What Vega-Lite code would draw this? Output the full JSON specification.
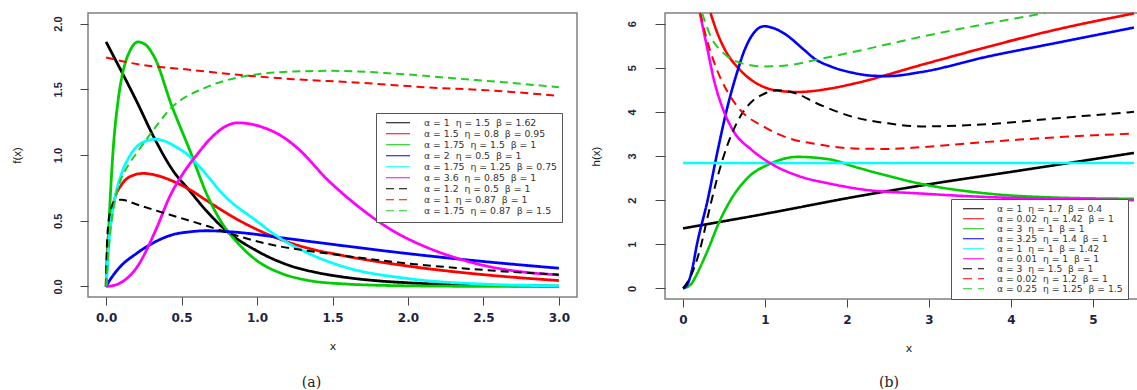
{
"$schema": "https://vega.github.io/schema/vega-lite/v6.json",
"padding": {"left": 10, "top": 7, "right": 0, "bottom": 0},
"spacing": 11,
"background": "white",
"config": {
  "view": {"stroke": "#808080", "strokeWidth": 1.5},
  "axis": {"domain": false, "grid": false, "tickColor": "#444", "tickWidth": 1, "labelFont": "Liberation Sans", "labelFontWeight": "bold", "labelColor": "#1f1f3f", "titleFont": "Liberation Sans", "titleFontWeight": "normal", "titleFontSize": 11.5, "titleColor": "#222", "labelFlush": false, "labelOverlap": false},
  "axisX": {"labelFont": "DejaVu Sans", "labelFontSize": 12, "labelPadding": 7, "titlePadding": 17, "titleFont": "DejaVu Sans", "titleFontSize": 11},
  "axisY": {"labelFontSize": 11},
  "line": {"clip": true, "interpolate": "monotone", "strokeCap": "butt"}
},
"resolve": {"scale": {"color": "independent", "strokeDash": "independent"}, "legend": {"color": "independent", "strokeDash": "independent"}},
"datasets": {
"aS": [
{"s":"α = 1\u00a0\u00a0η = 1.5\u00a0\u00a0β = 1.62","x":0,"y":1.86},
{"s":"α = 1\u00a0\u00a0η = 1.5\u00a0\u00a0β = 1.62","x":0.05,"y":1.75},
{"s":"α = 1\u00a0\u00a0η = 1.5\u00a0\u00a0β = 1.62","x":0.1,"y":1.64},
{"s":"α = 1\u00a0\u00a0η = 1.5\u00a0\u00a0β = 1.62","x":0.21,"y":1.39},
{"s":"α = 1\u00a0\u00a0η = 1.5\u00a0\u00a0β = 1.62","x":0.31,"y":1.15},
{"s":"α = 1\u00a0\u00a0η = 1.5\u00a0\u00a0β = 1.62","x":0.444,"y":0.88},
{"s":"α = 1\u00a0\u00a0η = 1.5\u00a0\u00a0β = 1.62","x":0.554,"y":0.727},
{"s":"α = 1\u00a0\u00a0η = 1.5\u00a0\u00a0β = 1.62","x":0.664,"y":0.576},
{"s":"α = 1\u00a0\u00a0η = 1.5\u00a0\u00a0β = 1.62","x":0.797,"y":0.424},
{"s":"α = 1\u00a0\u00a0η = 1.5\u00a0\u00a0β = 1.62","x":1.0,"y":0.27},
{"s":"α = 1\u00a0\u00a0η = 1.5\u00a0\u00a0β = 1.62","x":1.216,"y":0.159},
{"s":"α = 1\u00a0\u00a0η = 1.5\u00a0\u00a0β = 1.62","x":1.4,"y":0.105},
{"s":"α = 1\u00a0\u00a0η = 1.5\u00a0\u00a0β = 1.62","x":1.57,"y":0.072},
{"s":"α = 1\u00a0\u00a0η = 1.5\u00a0\u00a0β = 1.62","x":1.8,"y":0.043},
{"s":"α = 1\u00a0\u00a0η = 1.5\u00a0\u00a0β = 1.62","x":2.0,"y":0.028},
{"s":"α = 1\u00a0\u00a0η = 1.5\u00a0\u00a0β = 1.62","x":2.5,"y":0.009},
{"s":"α = 1\u00a0\u00a0η = 1.5\u00a0\u00a0β = 1.62","x":3.0,"y":0.003},
{"s":"α = 1.5\u00a0\u00a0η = 0.8\u00a0\u00a0β = 0.95","x":0,"y":0},
{"s":"α = 1.5\u00a0\u00a0η = 0.8\u00a0\u00a0β = 0.95","x":0.01,"y":0.3},
{"s":"α = 1.5\u00a0\u00a0η = 0.8\u00a0\u00a0β = 0.95","x":0.03,"y":0.52},
{"s":"α = 1.5\u00a0\u00a0η = 0.8\u00a0\u00a0β = 0.95","x":0.06,"y":0.68},
{"s":"α = 1.5\u00a0\u00a0η = 0.8\u00a0\u00a0β = 0.95","x":0.1,"y":0.77},
{"s":"α = 1.5\u00a0\u00a0η = 0.8\u00a0\u00a0β = 0.95","x":0.15,"y":0.83},
{"s":"α = 1.5\u00a0\u00a0η = 0.8\u00a0\u00a0β = 0.95","x":0.245,"y":0.86},
{"s":"α = 1.5\u00a0\u00a0η = 0.8\u00a0\u00a0β = 0.95","x":0.35,"y":0.84},
{"s":"α = 1.5\u00a0\u00a0η = 0.8\u00a0\u00a0β = 0.95","x":0.444,"y":0.8},
{"s":"α = 1.5\u00a0\u00a0η = 0.8\u00a0\u00a0β = 0.95","x":0.55,"y":0.74},
{"s":"α = 1.5\u00a0\u00a0η = 0.8\u00a0\u00a0β = 0.95","x":0.664,"y":0.655},
{"s":"α = 1.5\u00a0\u00a0η = 0.8\u00a0\u00a0β = 0.95","x":0.885,"y":0.5},
{"s":"α = 1.5\u00a0\u00a0η = 0.8\u00a0\u00a0β = 0.95","x":1.106,"y":0.38},
{"s":"α = 1.5\u00a0\u00a0η = 0.8\u00a0\u00a0β = 0.95","x":1.326,"y":0.295},
{"s":"α = 1.5\u00a0\u00a0η = 0.8\u00a0\u00a0β = 0.95","x":1.57,"y":0.235},
{"s":"α = 1.5\u00a0\u00a0η = 0.8\u00a0\u00a0β = 0.95","x":2.0,"y":0.155},
{"s":"α = 1.5\u00a0\u00a0η = 0.8\u00a0\u00a0β = 0.95","x":2.5,"y":0.09},
{"s":"α = 1.5\u00a0\u00a0η = 0.8\u00a0\u00a0β = 0.95","x":3.0,"y":0.045},
{"s":"α = 1.75\u00a0\u00a0η = 1.5\u00a0\u00a0β = 1","x":0,"y":0},
{"s":"α = 1.75\u00a0\u00a0η = 1.5\u00a0\u00a0β = 1","x":0.01,"y":0.25},
{"s":"α = 1.75\u00a0\u00a0η = 1.5\u00a0\u00a0β = 1","x":0.025,"y":0.62},
{"s":"α = 1.75\u00a0\u00a0η = 1.5\u00a0\u00a0β = 1","x":0.046,"y":1.03},
{"s":"α = 1.75\u00a0\u00a0η = 1.5\u00a0\u00a0β = 1","x":0.079,"y":1.41},
{"s":"α = 1.75\u00a0\u00a0η = 1.5\u00a0\u00a0β = 1","x":0.113,"y":1.64},
{"s":"α = 1.75\u00a0\u00a0η = 1.5\u00a0\u00a0β = 1","x":0.157,"y":1.79},
{"s":"α = 1.75\u00a0\u00a0η = 1.5\u00a0\u00a0β = 1","x":0.212,"y":1.86},
{"s":"α = 1.75\u00a0\u00a0η = 1.5\u00a0\u00a0β = 1","x":0.26,"y":1.84},
{"s":"α = 1.75\u00a0\u00a0η = 1.5\u00a0\u00a0β = 1","x":0.322,"y":1.74},
{"s":"α = 1.75\u00a0\u00a0η = 1.5\u00a0\u00a0β = 1","x":0.433,"y":1.38},
{"s":"α = 1.75\u00a0\u00a0η = 1.5\u00a0\u00a0β = 1","x":0.56,"y":1.02},
{"s":"α = 1.75\u00a0\u00a0η = 1.5\u00a0\u00a0β = 1","x":0.664,"y":0.71},
{"s":"α = 1.75\u00a0\u00a0η = 1.5\u00a0\u00a0β = 1","x":0.775,"y":0.47},
{"s":"α = 1.75\u00a0\u00a0η = 1.5\u00a0\u00a0β = 1","x":0.85,"y":0.36},
{"s":"α = 1.75\u00a0\u00a0η = 1.5\u00a0\u00a0β = 1","x":0.995,"y":0.2},
{"s":"α = 1.75\u00a0\u00a0η = 1.5\u00a0\u00a0β = 1","x":1.17,"y":0.096},
{"s":"α = 1.75\u00a0\u00a0η = 1.5\u00a0\u00a0β = 1","x":1.33,"y":0.048},
{"s":"α = 1.75\u00a0\u00a0η = 1.5\u00a0\u00a0β = 1","x":1.57,"y":0.02},
{"s":"α = 1.75\u00a0\u00a0η = 1.5\u00a0\u00a0β = 1","x":2.0,"y":0.005},
{"s":"α = 1.75\u00a0\u00a0η = 1.5\u00a0\u00a0β = 1","x":2.5,"y":0.001},
{"s":"α = 1.75\u00a0\u00a0η = 1.5\u00a0\u00a0β = 1","x":3.0,"y":0},
{"s":"α = 2\u00a0\u00a0η = 0.5\u00a0\u00a0β = 1","x":0,"y":0},
{"s":"α = 2\u00a0\u00a0η = 0.5\u00a0\u00a0β = 1","x":0.02,"y":0.04},
{"s":"α = 2\u00a0\u00a0η = 0.5\u00a0\u00a0β = 1","x":0.05,"y":0.09},
{"s":"α = 2\u00a0\u00a0η = 0.5\u00a0\u00a0β = 1","x":0.09,"y":0.146},
{"s":"α = 2\u00a0\u00a0η = 0.5\u00a0\u00a0β = 1","x":0.2,"y":0.25},
{"s":"α = 2\u00a0\u00a0η = 0.5\u00a0\u00a0β = 1","x":0.31,"y":0.33},
{"s":"α = 2\u00a0\u00a0η = 0.5\u00a0\u00a0β = 1","x":0.444,"y":0.395},
{"s":"α = 2\u00a0\u00a0η = 0.5\u00a0\u00a0β = 1","x":0.55,"y":0.415},
{"s":"α = 2\u00a0\u00a0η = 0.5\u00a0\u00a0β = 1","x":0.664,"y":0.424},
{"s":"α = 2\u00a0\u00a0η = 0.5\u00a0\u00a0β = 1","x":0.885,"y":0.41},
{"s":"α = 2\u00a0\u00a0η = 0.5\u00a0\u00a0β = 1","x":1.17,"y":0.369},
{"s":"α = 2\u00a0\u00a0η = 0.5\u00a0\u00a0β = 1","x":1.57,"y":0.31},
{"s":"α = 2\u00a0\u00a0η = 0.5\u00a0\u00a0β = 1","x":2.0,"y":0.25},
{"s":"α = 2\u00a0\u00a0η = 0.5\u00a0\u00a0β = 1","x":2.5,"y":0.19},
{"s":"α = 2\u00a0\u00a0η = 0.5\u00a0\u00a0β = 1","x":3.0,"y":0.139},
{"s":"α = 1.75\u00a0\u00a0η = 1.25\u00a0\u00a0β = 0.75","x":0,"y":0},
{"s":"α = 1.75\u00a0\u00a0η = 1.25\u00a0\u00a0β = 0.75","x":0.02,"y":0.35},
{"s":"α = 1.75\u00a0\u00a0η = 1.25\u00a0\u00a0β = 0.75","x":0.05,"y":0.62},
{"s":"α = 1.75\u00a0\u00a0η = 1.25\u00a0\u00a0β = 0.75","x":0.1,"y":0.85},
{"s":"α = 1.75\u00a0\u00a0η = 1.25\u00a0\u00a0β = 0.75","x":0.15,"y":0.98},
{"s":"α = 1.75\u00a0\u00a0η = 1.25\u00a0\u00a0β = 0.75","x":0.2,"y":1.06},
{"s":"α = 1.75\u00a0\u00a0η = 1.25\u00a0\u00a0β = 0.75","x":0.25,"y":1.1},
{"s":"α = 1.75\u00a0\u00a0η = 1.25\u00a0\u00a0β = 0.75","x":0.33,"y":1.12},
{"s":"α = 1.75\u00a0\u00a0η = 1.25\u00a0\u00a0β = 0.75","x":0.4,"y":1.1},
{"s":"α = 1.75\u00a0\u00a0η = 1.25\u00a0\u00a0β = 0.75","x":0.45,"y":1.07},
{"s":"α = 1.75\u00a0\u00a0η = 1.25\u00a0\u00a0β = 0.75","x":0.532,"y":1.01},
{"s":"α = 1.75\u00a0\u00a0η = 1.25\u00a0\u00a0β = 0.75","x":0.65,"y":0.87},
{"s":"α = 1.75\u00a0\u00a0η = 1.25\u00a0\u00a0β = 0.75","x":0.775,"y":0.7},
{"s":"α = 1.75\u00a0\u00a0η = 1.25\u00a0\u00a0β = 0.75","x":0.995,"y":0.5},
{"s":"α = 1.75\u00a0\u00a0η = 1.25\u00a0\u00a0β = 0.75","x":1.15,"y":0.369},
{"s":"α = 1.75\u00a0\u00a0η = 1.25\u00a0\u00a0β = 0.75","x":1.326,"y":0.26},
{"s":"α = 1.75\u00a0\u00a0η = 1.25\u00a0\u00a0β = 0.75","x":1.57,"y":0.152},
{"s":"α = 1.75\u00a0\u00a0η = 1.25\u00a0\u00a0β = 0.75","x":2.0,"y":0.06},
{"s":"α = 1.75\u00a0\u00a0η = 1.25\u00a0\u00a0β = 0.75","x":2.5,"y":0.018},
{"s":"α = 1.75\u00a0\u00a0η = 1.25\u00a0\u00a0β = 0.75","x":3.0,"y":0.005},
{"s":"α = 3.6\u00a0\u00a0η = 0.85\u00a0\u00a0β = 1","x":0,"y":0},
{"s":"α = 3.6\u00a0\u00a0η = 0.85\u00a0\u00a0β = 1","x":0.05,"y":0.008},
{"s":"α = 3.6\u00a0\u00a0η = 0.85\u00a0\u00a0β = 1","x":0.09,"y":0.025},
{"s":"α = 3.6\u00a0\u00a0η = 0.85\u00a0\u00a0β = 1","x":0.2,"y":0.14},
{"s":"α = 3.6\u00a0\u00a0η = 0.85\u00a0\u00a0β = 1","x":0.333,"y":0.44},
{"s":"α = 3.6\u00a0\u00a0η = 0.85\u00a0\u00a0β = 1","x":0.42,"y":0.68},
{"s":"α = 3.6\u00a0\u00a0η = 0.85\u00a0\u00a0β = 1","x":0.51,"y":0.86},
{"s":"α = 3.6\u00a0\u00a0η = 0.85\u00a0\u00a0β = 1","x":0.6,"y":1.0},
{"s":"α = 3.6\u00a0\u00a0η = 0.85\u00a0\u00a0β = 1","x":0.687,"y":1.12},
{"s":"α = 3.6\u00a0\u00a0η = 0.85\u00a0\u00a0β = 1","x":0.78,"y":1.21},
{"s":"α = 3.6\u00a0\u00a0η = 0.85\u00a0\u00a0β = 1","x":0.87,"y":1.245},
{"s":"α = 3.6\u00a0\u00a0η = 0.85\u00a0\u00a0β = 1","x":0.96,"y":1.235},
{"s":"α = 3.6\u00a0\u00a0η = 0.85\u00a0\u00a0β = 1","x":1.04,"y":1.21},
{"s":"α = 3.6\u00a0\u00a0η = 0.85\u00a0\u00a0β = 1","x":1.194,"y":1.12},
{"s":"α = 3.6\u00a0\u00a0η = 0.85\u00a0\u00a0β = 1","x":1.28,"y":1.04},
{"s":"α = 3.6\u00a0\u00a0η = 0.85\u00a0\u00a0β = 1","x":1.46,"y":0.82},
{"s":"α = 3.6\u00a0\u00a0η = 0.85\u00a0\u00a0β = 1","x":1.68,"y":0.6},
{"s":"α = 3.6\u00a0\u00a0η = 0.85\u00a0\u00a0β = 1","x":1.9,"y":0.424},
{"s":"α = 3.6\u00a0\u00a0η = 0.85\u00a0\u00a0β = 1","x":2.12,"y":0.3},
{"s":"α = 3.6\u00a0\u00a0η = 0.85\u00a0\u00a0β = 1","x":2.34,"y":0.21},
{"s":"α = 3.6\u00a0\u00a0η = 0.85\u00a0\u00a0β = 1","x":2.56,"y":0.146},
{"s":"α = 3.6\u00a0\u00a0η = 0.85\u00a0\u00a0β = 1","x":2.78,"y":0.108},
{"s":"α = 3.6\u00a0\u00a0η = 0.85\u00a0\u00a0β = 1","x":3.0,"y":0.088}
],
"aD": [
{"s":"α = 1.2\u00a0\u00a0η = 0.5\u00a0\u00a0β = 1","x":0,"y":0},
{"s":"α = 1.2\u00a0\u00a0η = 0.5\u00a0\u00a0β = 1","x":0.005,"y":0.3},
{"s":"α = 1.2\u00a0\u00a0η = 0.5\u00a0\u00a0β = 1","x":0.015,"y":0.48},
{"s":"α = 1.2\u00a0\u00a0η = 0.5\u00a0\u00a0β = 1","x":0.03,"y":0.58},
{"s":"α = 1.2\u00a0\u00a0η = 0.5\u00a0\u00a0β = 1","x":0.06,"y":0.65},
{"s":"α = 1.2\u00a0\u00a0η = 0.5\u00a0\u00a0β = 1","x":0.1,"y":0.66},
{"s":"α = 1.2\u00a0\u00a0η = 0.5\u00a0\u00a0β = 1","x":0.2,"y":0.625},
{"s":"α = 1.2\u00a0\u00a0η = 0.5\u00a0\u00a0β = 1","x":0.31,"y":0.585},
{"s":"α = 1.2\u00a0\u00a0η = 0.5\u00a0\u00a0β = 1","x":0.444,"y":0.538},
{"s":"α = 1.2\u00a0\u00a0η = 0.5\u00a0\u00a0β = 1","x":0.664,"y":0.462},
{"s":"α = 1.2\u00a0\u00a0η = 0.5\u00a0\u00a0β = 1","x":0.885,"y":0.38},
{"s":"α = 1.2\u00a0\u00a0η = 0.5\u00a0\u00a0β = 1","x":1.106,"y":0.315},
{"s":"α = 1.2\u00a0\u00a0η = 0.5\u00a0\u00a0β = 1","x":1.326,"y":0.273},
{"s":"α = 1.2\u00a0\u00a0η = 0.5\u00a0\u00a0β = 1","x":1.57,"y":0.235},
{"s":"α = 1.2\u00a0\u00a0η = 0.5\u00a0\u00a0β = 1","x":2.0,"y":0.175},
{"s":"α = 1.2\u00a0\u00a0η = 0.5\u00a0\u00a0β = 1","x":2.5,"y":0.126},
{"s":"α = 1.2\u00a0\u00a0η = 0.5\u00a0\u00a0β = 1","x":3.0,"y":0.09},
{"s":"α = 1\u00a0\u00a0η = 0.87\u00a0\u00a0β = 1","x":0,"y":1.742},
{"s":"α = 1\u00a0\u00a0η = 0.87\u00a0\u00a0β = 1","x":0.21,"y":1.69},
{"s":"α = 1\u00a0\u00a0η = 0.87\u00a0\u00a0β = 1","x":0.54,"y":1.65},
{"s":"α = 1\u00a0\u00a0η = 0.87\u00a0\u00a0β = 1","x":0.874,"y":1.61},
{"s":"α = 1\u00a0\u00a0η = 0.87\u00a0\u00a0β = 1","x":1.24,"y":1.577},
{"s":"α = 1\u00a0\u00a0η = 0.87\u00a0\u00a0β = 1","x":1.68,"y":1.55},
{"s":"α = 1\u00a0\u00a0η = 0.87\u00a0\u00a0β = 1","x":2.12,"y":1.515},
{"s":"α = 1\u00a0\u00a0η = 0.87\u00a0\u00a0β = 1","x":2.56,"y":1.49},
{"s":"α = 1\u00a0\u00a0η = 0.87\u00a0\u00a0β = 1","x":3.0,"y":1.45},
{"s":"α = 1.75\u00a0\u00a0η = 0.87\u00a0\u00a0β = 1.5","x":0,"y":0},
{"s":"α = 1.75\u00a0\u00a0η = 0.87\u00a0\u00a0β = 1.5","x":0.02,"y":0.33},
{"s":"α = 1.75\u00a0\u00a0η = 0.87\u00a0\u00a0β = 1.5","x":0.05,"y":0.6},
{"s":"α = 1.75\u00a0\u00a0η = 0.87\u00a0\u00a0β = 1.5","x":0.1,"y":0.82},
{"s":"α = 1.75\u00a0\u00a0η = 0.87\u00a0\u00a0β = 1.5","x":0.135,"y":0.9},
{"s":"α = 1.75\u00a0\u00a0η = 0.87\u00a0\u00a0β = 1.5","x":0.212,"y":1.03},
{"s":"α = 1.75\u00a0\u00a0η = 0.87\u00a0\u00a0β = 1.5","x":0.3,"y":1.17},
{"s":"α = 1.75\u00a0\u00a0η = 0.87\u00a0\u00a0β = 1.5","x":0.433,"y":1.36},
{"s":"α = 1.75\u00a0\u00a0η = 0.87\u00a0\u00a0β = 1.5","x":0.654,"y":1.51},
{"s":"α = 1.75\u00a0\u00a0η = 0.87\u00a0\u00a0β = 1.5","x":0.874,"y":1.59},
{"s":"α = 1.75\u00a0\u00a0η = 0.87\u00a0\u00a0β = 1.5","x":1.05,"y":1.62},
{"s":"α = 1.75\u00a0\u00a0η = 0.87\u00a0\u00a0β = 1.5","x":1.24,"y":1.635},
{"s":"α = 1.75\u00a0\u00a0η = 0.87\u00a0\u00a0β = 1.5","x":1.5,"y":1.64},
{"s":"α = 1.75\u00a0\u00a0η = 0.87\u00a0\u00a0β = 1.5","x":1.9,"y":1.62},
{"s":"α = 1.75\u00a0\u00a0η = 0.87\u00a0\u00a0β = 1.5","x":2.34,"y":1.58},
{"s":"α = 1.75\u00a0\u00a0η = 0.87\u00a0\u00a0β = 1.5","x":2.67,"y":1.55},
{"s":"α = 1.75\u00a0\u00a0η = 0.87\u00a0\u00a0β = 1.5","x":3.0,"y":1.515}
],
"bS": [
{"s":"α = 1\u00a0\u00a0η = 1.7\u00a0\u00a0β = 0.4","x":0,"y":1.36},
{"s":"α = 1\u00a0\u00a0η = 1.7\u00a0\u00a0β = 0.4","x":1,"y":1.69},
{"s":"α = 1\u00a0\u00a0η = 1.7\u00a0\u00a0β = 0.4","x":2.08,"y":2.07},
{"s":"α = 1\u00a0\u00a0η = 1.7\u00a0\u00a0β = 0.4","x":3,"y":2.36},
{"s":"α = 1\u00a0\u00a0η = 1.7\u00a0\u00a0β = 0.4","x":4,"y":2.64},
{"s":"α = 1\u00a0\u00a0η = 1.7\u00a0\u00a0β = 0.4","x":5.5,"y":3.07},
{"s":"α = 0.02\u00a0\u00a0η = 1.42\u00a0\u00a0β = 1","x":0.335,"y":6.24},
{"s":"α = 0.02\u00a0\u00a0η = 1.42\u00a0\u00a0β = 1","x":0.42,"y":5.78},
{"s":"α = 0.02\u00a0\u00a0η = 1.42\u00a0\u00a0β = 1","x":0.5,"y":5.45},
{"s":"α = 0.02\u00a0\u00a0η = 1.42\u00a0\u00a0β = 1","x":0.58,"y":5.2},
{"s":"α = 0.02\u00a0\u00a0η = 1.42\u00a0\u00a0β = 1","x":0.66,"y":5.02},
{"s":"α = 0.02\u00a0\u00a0η = 1.42\u00a0\u00a0β = 1","x":0.78,"y":4.8},
{"s":"α = 0.02\u00a0\u00a0η = 1.42\u00a0\u00a0β = 1","x":0.99,"y":4.56},
{"s":"α = 0.02\u00a0\u00a0η = 1.42\u00a0\u00a0β = 1","x":1.2,"y":4.47},
{"s":"α = 0.02\u00a0\u00a0η = 1.42\u00a0\u00a0β = 1","x":1.39,"y":4.45},
{"s":"α = 0.02\u00a0\u00a0η = 1.42\u00a0\u00a0β = 1","x":1.8,"y":4.53},
{"s":"α = 0.02\u00a0\u00a0η = 1.42\u00a0\u00a0β = 1","x":2.085,"y":4.64},
{"s":"α = 0.02\u00a0\u00a0η = 1.42\u00a0\u00a0β = 1","x":2.9,"y":5.06},
{"s":"α = 0.02\u00a0\u00a0η = 1.42\u00a0\u00a0β = 1","x":3.71,"y":5.47},
{"s":"α = 0.02\u00a0\u00a0η = 1.42\u00a0\u00a0β = 1","x":4.52,"y":5.85},
{"s":"α = 0.02\u00a0\u00a0η = 1.42\u00a0\u00a0β = 1","x":5.5,"y":6.23},
{"s":"α = 3\u00a0\u00a0η = 1\u00a0\u00a0β = 1","x":0,"y":0},
{"s":"α = 3\u00a0\u00a0η = 1\u00a0\u00a0β = 1","x":0.1,"y":0.1},
{"s":"α = 3\u00a0\u00a0η = 1\u00a0\u00a0β = 1","x":0.17,"y":0.33},
{"s":"α = 3\u00a0\u00a0η = 1\u00a0\u00a0β = 1","x":0.3,"y":0.86},
{"s":"α = 3\u00a0\u00a0η = 1\u00a0\u00a0β = 1","x":0.44,"y":1.5},
{"s":"α = 3\u00a0\u00a0η = 1\u00a0\u00a0β = 1","x":0.58,"y":2.0},
{"s":"α = 3\u00a0\u00a0η = 1\u00a0\u00a0β = 1","x":0.78,"y":2.49},
{"s":"α = 3\u00a0\u00a0η = 1\u00a0\u00a0β = 1","x":1.07,"y":2.83},
{"s":"α = 3\u00a0\u00a0η = 1\u00a0\u00a0β = 1","x":1.39,"y":2.98},
{"s":"α = 3\u00a0\u00a0η = 1\u00a0\u00a0β = 1","x":1.8,"y":2.92},
{"s":"α = 3\u00a0\u00a0η = 1\u00a0\u00a0β = 1","x":2.085,"y":2.76},
{"s":"α = 3\u00a0\u00a0η = 1\u00a0\u00a0β = 1","x":2.5,"y":2.55},
{"s":"α = 3\u00a0\u00a0η = 1\u00a0\u00a0β = 1","x":2.9,"y":2.37},
{"s":"α = 3\u00a0\u00a0η = 1\u00a0\u00a0β = 1","x":3.71,"y":2.15},
{"s":"α = 3\u00a0\u00a0η = 1\u00a0\u00a0β = 1","x":4.52,"y":2.06},
{"s":"α = 3\u00a0\u00a0η = 1\u00a0\u00a0β = 1","x":5.5,"y":2.03},
{"s":"α = 3.25\u00a0\u00a0η = 1.4\u00a0\u00a0β = 1","x":0,"y":0},
{"s":"α = 3.25\u00a0\u00a0η = 1.4\u00a0\u00a0β = 1","x":0.06,"y":0.12},
{"s":"α = 3.25\u00a0\u00a0η = 1.4\u00a0\u00a0β = 1","x":0.11,"y":0.42},
{"s":"α = 3.25\u00a0\u00a0η = 1.4\u00a0\u00a0β = 1","x":0.17,"y":1.0},
{"s":"α = 3.25\u00a0\u00a0η = 1.4\u00a0\u00a0β = 1","x":0.3,"y":2.0},
{"s":"α = 3.25\u00a0\u00a0η = 1.4\u00a0\u00a0β = 1","x":0.42,"y":3.1},
{"s":"α = 3.25\u00a0\u00a0η = 1.4\u00a0\u00a0β = 1","x":0.54,"y":4.1},
{"s":"α = 3.25\u00a0\u00a0η = 1.4\u00a0\u00a0β = 1","x":0.66,"y":4.9},
{"s":"α = 3.25\u00a0\u00a0η = 1.4\u00a0\u00a0β = 1","x":0.74,"y":5.35},
{"s":"α = 3.25\u00a0\u00a0η = 1.4\u00a0\u00a0β = 1","x":0.83,"y":5.7},
{"s":"α = 3.25\u00a0\u00a0η = 1.4\u00a0\u00a0β = 1","x":0.99,"y":5.94},
{"s":"α = 3.25\u00a0\u00a0η = 1.4\u00a0\u00a0β = 1","x":1.1,"y":5.9},
{"s":"α = 3.25\u00a0\u00a0η = 1.4\u00a0\u00a0β = 1","x":1.23,"y":5.78},
{"s":"α = 3.25\u00a0\u00a0η = 1.4\u00a0\u00a0β = 1","x":1.48,"y":5.4},
{"s":"α = 3.25\u00a0\u00a0η = 1.4\u00a0\u00a0β = 1","x":1.6,"y":5.21},
{"s":"α = 3.25\u00a0\u00a0η = 1.4\u00a0\u00a0β = 1","x":1.8,"y":5.03},
{"s":"α = 3.25\u00a0\u00a0η = 1.4\u00a0\u00a0β = 1","x":2.085,"y":4.88},
{"s":"α = 3.25\u00a0\u00a0η = 1.4\u00a0\u00a0β = 1","x":2.3,"y":4.82},
{"s":"α = 3.25\u00a0\u00a0η = 1.4\u00a0\u00a0β = 1","x":2.5,"y":4.81},
{"s":"α = 3.25\u00a0\u00a0η = 1.4\u00a0\u00a0β = 1","x":2.9,"y":4.9},
{"s":"α = 3.25\u00a0\u00a0η = 1.4\u00a0\u00a0β = 1","x":3.71,"y":5.25},
{"s":"α = 3.25\u00a0\u00a0η = 1.4\u00a0\u00a0β = 1","x":4.52,"y":5.55},
{"s":"α = 3.25\u00a0\u00a0η = 1.4\u00a0\u00a0β = 1","x":5.5,"y":5.91},
{"s":"α = 1\u00a0\u00a0η = 1\u00a0\u00a0β = 1.42","x":0,"y":2.84},
{"s":"α = 1\u00a0\u00a0η = 1\u00a0\u00a0β = 1.42","x":5.5,"y":2.84},
{"s":"α = 0.01\u00a0\u00a0η = 1\u00a0\u00a0β = 1","x":0.205,"y":6.24},
{"s":"α = 0.01\u00a0\u00a0η = 1\u00a0\u00a0β = 1","x":0.3,"y":5.4},
{"s":"α = 0.01\u00a0\u00a0η = 1\u00a0\u00a0β = 1","x":0.38,"y":4.7},
{"s":"α = 0.01\u00a0\u00a0η = 1\u00a0\u00a0β = 1","x":0.48,"y":4.1},
{"s":"α = 0.01\u00a0\u00a0η = 1\u00a0\u00a0β = 1","x":0.62,"y":3.55},
{"s":"α = 0.01\u00a0\u00a0η = 1\u00a0\u00a0β = 1","x":0.83,"y":3.15},
{"s":"α = 0.01\u00a0\u00a0η = 1\u00a0\u00a0β = 1","x":1.07,"y":2.83},
{"s":"α = 0.01\u00a0\u00a0η = 1\u00a0\u00a0β = 1","x":1.39,"y":2.56},
{"s":"α = 0.01\u00a0\u00a0η = 1\u00a0\u00a0β = 1","x":1.8,"y":2.37},
{"s":"α = 0.01\u00a0\u00a0η = 1\u00a0\u00a0β = 1","x":2.2,"y":2.24},
{"s":"α = 0.01\u00a0\u00a0η = 1\u00a0\u00a0β = 1","x":2.9,"y":2.15},
{"s":"α = 0.01\u00a0\u00a0η = 1\u00a0\u00a0β = 1","x":3.71,"y":2.07},
{"s":"α = 0.01\u00a0\u00a0η = 1\u00a0\u00a0β = 1","x":4.5,"y":2.03},
{"s":"α = 0.01\u00a0\u00a0η = 1\u00a0\u00a0β = 1","x":5.5,"y":2.0}
],
"bD": [
{"s":"α = 3\u00a0\u00a0η = 1.5\u00a0\u00a0β = 1","x":0,"y":0},
{"s":"α = 3\u00a0\u00a0η = 1.5\u00a0\u00a0β = 1","x":0.1,"y":0.3},
{"s":"α = 3\u00a0\u00a0η = 1.5\u00a0\u00a0β = 1","x":0.215,"y":0.94},
{"s":"α = 3\u00a0\u00a0η = 1.5\u00a0\u00a0β = 1","x":0.3,"y":1.62},
{"s":"α = 3\u00a0\u00a0η = 1.5\u00a0\u00a0β = 1","x":0.42,"y":2.52},
{"s":"α = 3\u00a0\u00a0η = 1.5\u00a0\u00a0β = 1","x":0.54,"y":3.24},
{"s":"α = 3\u00a0\u00a0η = 1.5\u00a0\u00a0β = 1","x":0.7,"y":3.9},
{"s":"α = 3\u00a0\u00a0η = 1.5\u00a0\u00a0β = 1","x":0.85,"y":4.25},
{"s":"α = 3\u00a0\u00a0η = 1.5\u00a0\u00a0β = 1","x":0.99,"y":4.41},
{"s":"α = 3\u00a0\u00a0η = 1.5\u00a0\u00a0β = 1","x":1.15,"y":4.49},
{"s":"α = 3\u00a0\u00a0η = 1.5\u00a0\u00a0β = 1","x":1.39,"y":4.41},
{"s":"α = 3\u00a0\u00a0η = 1.5\u00a0\u00a0β = 1","x":1.6,"y":4.22},
{"s":"α = 3\u00a0\u00a0η = 1.5\u00a0\u00a0β = 1","x":2.085,"y":3.88},
{"s":"α = 3\u00a0\u00a0η = 1.5\u00a0\u00a0β = 1","x":2.5,"y":3.74},
{"s":"α = 3\u00a0\u00a0η = 1.5\u00a0\u00a0β = 1","x":2.9,"y":3.67},
{"s":"α = 3\u00a0\u00a0η = 1.5\u00a0\u00a0β = 1","x":3.71,"y":3.72},
{"s":"α = 3\u00a0\u00a0η = 1.5\u00a0\u00a0β = 1","x":4.52,"y":3.85},
{"s":"α = 3\u00a0\u00a0η = 1.5\u00a0\u00a0β = 1","x":5.5,"y":4.0},
{"s":"α = 0.02\u00a0\u00a0η = 1.2\u00a0\u00a0β = 1","x":0.21,"y":6.24},
{"s":"α = 0.02\u00a0\u00a0η = 1.2\u00a0\u00a0β = 1","x":0.26,"y":5.85},
{"s":"α = 0.02\u00a0\u00a0η = 1.2\u00a0\u00a0β = 1","x":0.32,"y":5.45},
{"s":"α = 0.02\u00a0\u00a0η = 1.2\u00a0\u00a0β = 1","x":0.38,"y":5.12},
{"s":"α = 0.02\u00a0\u00a0η = 1.2\u00a0\u00a0β = 1","x":0.46,"y":4.75},
{"s":"α = 0.02\u00a0\u00a0η = 1.2\u00a0\u00a0β = 1","x":0.56,"y":4.4},
{"s":"α = 0.02\u00a0\u00a0η = 1.2\u00a0\u00a0β = 1","x":0.7,"y":4.04},
{"s":"α = 0.02\u00a0\u00a0η = 1.2\u00a0\u00a0β = 1","x":0.99,"y":3.66},
{"s":"α = 0.02\u00a0\u00a0η = 1.2\u00a0\u00a0β = 1","x":1.31,"y":3.39},
{"s":"α = 0.02\u00a0\u00a0η = 1.2\u00a0\u00a0β = 1","x":1.6,"y":3.28},
{"s":"α = 0.02\u00a0\u00a0η = 1.2\u00a0\u00a0β = 1","x":2.085,"y":3.17},
{"s":"α = 0.02\u00a0\u00a0η = 1.2\u00a0\u00a0β = 1","x":2.5,"y":3.16},
{"s":"α = 0.02\u00a0\u00a0η = 1.2\u00a0\u00a0β = 1","x":2.9,"y":3.2},
{"s":"α = 0.02\u00a0\u00a0η = 1.2\u00a0\u00a0β = 1","x":3.71,"y":3.32},
{"s":"α = 0.02\u00a0\u00a0η = 1.2\u00a0\u00a0β = 1","x":4.52,"y":3.42},
{"s":"α = 0.02\u00a0\u00a0η = 1.2\u00a0\u00a0β = 1","x":5.5,"y":3.51},
{"s":"α = 0.25\u00a0\u00a0η = 1.25\u00a0\u00a0β = 1.5","x":0.232,"y":6.24},
{"s":"α = 0.25\u00a0\u00a0η = 1.25\u00a0\u00a0β = 1.5","x":0.34,"y":5.7},
{"s":"α = 0.25\u00a0\u00a0η = 1.25\u00a0\u00a0β = 1.5","x":0.5,"y":5.32},
{"s":"α = 0.25\u00a0\u00a0η = 1.25\u00a0\u00a0β = 1.5","x":0.7,"y":5.11},
{"s":"α = 0.25\u00a0\u00a0η = 1.25\u00a0\u00a0β = 1.5","x":0.99,"y":5.03},
{"s":"α = 0.25\u00a0\u00a0η = 1.25\u00a0\u00a0β = 1.5","x":1.31,"y":5.06},
{"s":"α = 0.25\u00a0\u00a0η = 1.25\u00a0\u00a0β = 1.5","x":1.6,"y":5.17},
{"s":"α = 0.25\u00a0\u00a0η = 1.25\u00a0\u00a0β = 1.5","x":2.085,"y":5.36},
{"s":"α = 0.25\u00a0\u00a0η = 1.25\u00a0\u00a0β = 1.5","x":2.9,"y":5.7},
{"s":"α = 0.25\u00a0\u00a0η = 1.25\u00a0\u00a0β = 1.5","x":3.71,"y":6.0},
{"s":"α = 0.25\u00a0\u00a0η = 1.25\u00a0\u00a0β = 1.5","x":4.42,"y":6.24}
]
},
"hconcat": [
{
  "width": 489, "height": 284,
  "title": {"text": "(a)", "orient": "bottom", "anchor": "middle", "frame": "group", "dx": -21, "offset": 25, "font": "DejaVu Serif", "fontSize": 14, "fontWeight": "normal", "color": "#222"},
  "encoding": {
    "x": {"field": "x", "type": "quantitative", "scale": {"domain": [-0.12, 3.12], "nice": false, "zero": false}, "axis": {"title": "x", "values": [0, 0.5, 1, 1.5, 2, 2.5, 3], "format": ".1f", "tickSize": 8}},
    "y": {"field": "y", "type": "quantitative", "scale": {"domain": [-0.08, 2.08], "nice": false, "zero": false}, "axis": {"title": "f(x)", "values": [0, 0.5, 1, 1.5, 2], "format": ".1f", "tickSize": 8, "labelAngle": 270, "labelAlign": "center", "labelBaseline": "bottom", "labelPadding": 16.5, "titlePadding": 30}},
    "color": {"field": "s", "type": "nominal",
      "scale": {"domain": ["α = 1\u00a0\u00a0η = 1.5\u00a0\u00a0β = 1.62","α = 1.5\u00a0\u00a0η = 0.8\u00a0\u00a0β = 0.95","α = 1.75\u00a0\u00a0η = 1.5\u00a0\u00a0β = 1","α = 2\u00a0\u00a0η = 0.5\u00a0\u00a0β = 1","α = 1.75\u00a0\u00a0η = 1.25\u00a0\u00a0β = 0.75","α = 3.6\u00a0\u00a0η = 0.85\u00a0\u00a0β = 1","α = 1.2\u00a0\u00a0η = 0.5\u00a0\u00a0β = 1","α = 1\u00a0\u00a0η = 0.87\u00a0\u00a0β = 1","α = 1.75\u00a0\u00a0η = 0.87\u00a0\u00a0β = 1.5"],
        "range": ["#000000","#FF0000","#00CD00","#0000FF","#00FFFF","#FF00FF","#000000","#FF0000","#22CC22"]},
      "legend": {"orient": "none", "legendX": 288, "legendY": 100, "title": null, "symbolType": "stroke", "symbolSize": 576, "symbolStrokeWidth": 1.2, "symbolOffset": 4, "labelOffset": 13, "clipHeight": 9.5, "rowPadding": 0, "padding": 5, "strokeColor": "#555", "fillColor": "#ffffff", "labelFont": "DejaVu Sans", "labelFontSize": 9.3, "labelColor": "#333", "labelLimit": 300,
        "encode": {"symbols": {"update": {"strokeWidth": {"value": 1.2}, "strokeDash": {"signal": "datum.index > 5 ? [5, 4] : [1, 0]"}}}}}},
    "strokeDash": {"field": "s", "type": "nominal",
      "scale": {"domain": ["α = 1\u00a0\u00a0η = 1.5\u00a0\u00a0β = 1.62","α = 1.5\u00a0\u00a0η = 0.8\u00a0\u00a0β = 0.95","α = 1.75\u00a0\u00a0η = 1.5\u00a0\u00a0β = 1","α = 2\u00a0\u00a0η = 0.5\u00a0\u00a0β = 1","α = 1.75\u00a0\u00a0η = 1.25\u00a0\u00a0β = 0.75","α = 3.6\u00a0\u00a0η = 0.85\u00a0\u00a0β = 1","α = 1.2\u00a0\u00a0η = 0.5\u00a0\u00a0β = 1","α = 1\u00a0\u00a0η = 0.87\u00a0\u00a0β = 1","α = 1.75\u00a0\u00a0η = 0.87\u00a0\u00a0β = 1.5"],
        "range": [[1,0],[1,0],[1,0],[1,0],[1,0],[1,0],[8,5],[8,5],[8,5]]},
      "legend": {"orient": "none", "legendX": 288, "legendY": 100, "title": null, "symbolType": "stroke", "symbolSize": 576, "symbolStrokeWidth": 1.2, "symbolOffset": 4, "labelOffset": 13, "clipHeight": 9.5, "rowPadding": 0, "padding": 5, "strokeColor": "#555", "fillColor": "#ffffff", "labelFont": "DejaVu Sans", "labelFontSize": 9.3, "labelColor": "#333", "labelLimit": 300}}
  },
  "layer": [
    {"data": {"name": "aS"}, "mark": {"type": "line", "strokeWidth": 2.8}},
    {"data": {"name": "aD"}, "mark": {"type": "line", "strokeWidth": 2}}
  ]
},
{
  "width": 487, "height": 286,
  "title": {"text": "(b)", "orient": "bottom", "anchor": "middle", "frame": "group", "dx": -19.5, "offset": 23, "font": "DejaVu Serif", "fontSize": 14, "fontWeight": "normal", "color": "#222"},
  "encoding": {
    "x": {"field": "x", "type": "quantitative", "scale": {"domain": [-0.22, 5.72], "nice": false, "zero": false}, "axis": {"title": "x", "values": [0, 1, 2, 3, 4, 5], "format": "d", "tickSize": 8}},
    "y": {"field": "y", "type": "quantitative", "scale": {"domain": [-0.24, 6.24], "nice": false, "zero": false}, "axis": {"title": "h(x)", "values": [0, 1, 2, 3, 4, 5, 6], "format": "d", "tickSize": 10, "labelAngle": 270, "labelAlign": "center", "labelBaseline": "bottom", "labelPadding": 18, "titlePadding": 25}},
    "color": {"field": "s", "type": "nominal",
      "scale": {"domain": ["α = 1\u00a0\u00a0η = 1.7\u00a0\u00a0β = 0.4","α = 0.02\u00a0\u00a0η = 1.42\u00a0\u00a0β = 1","α = 3\u00a0\u00a0η = 1\u00a0\u00a0β = 1","α = 3.25\u00a0\u00a0η = 1.4\u00a0\u00a0β = 1","α = 1\u00a0\u00a0η = 1\u00a0\u00a0β = 1.42","α = 0.01\u00a0\u00a0η = 1\u00a0\u00a0β = 1","α = 3\u00a0\u00a0η = 1.5\u00a0\u00a0β = 1","α = 0.02\u00a0\u00a0η = 1.2\u00a0\u00a0β = 1","α = 0.25\u00a0\u00a0η = 1.25\u00a0\u00a0β = 1.5"],
        "range": ["#000000","#FF0000","#00CD00","#0000FF","#00FFFF","#FF00FF","#000000","#FF0000","#22CC22"]},
      "legend": {"orient": "none", "legendX": 286, "legendY": 186, "title": null, "symbolType": "stroke", "symbolSize": 441, "symbolStrokeWidth": 1.2, "symbolOffset": 6, "labelOffset": 12, "clipHeight": 9.5, "rowPadding": 0, "padding": 5, "strokeColor": "#555", "fillColor": "#ffffff", "labelFont": "DejaVu Sans", "labelFontSize": 9.2, "labelColor": "#333", "labelLimit": 300,
        "encode": {"symbols": {"update": {"strokeWidth": {"value": 1.2}, "strokeDash": {"signal": "datum.index > 5 ? [5, 4] : [1, 0]"}}}}}},
    "strokeDash": {"field": "s", "type": "nominal",
      "scale": {"domain": ["α = 1\u00a0\u00a0η = 1.7\u00a0\u00a0β = 0.4","α = 0.02\u00a0\u00a0η = 1.42\u00a0\u00a0β = 1","α = 3\u00a0\u00a0η = 1\u00a0\u00a0β = 1","α = 3.25\u00a0\u00a0η = 1.4\u00a0\u00a0β = 1","α = 1\u00a0\u00a0η = 1\u00a0\u00a0β = 1.42","α = 0.01\u00a0\u00a0η = 1\u00a0\u00a0β = 1","α = 3\u00a0\u00a0η = 1.5\u00a0\u00a0β = 1","α = 0.02\u00a0\u00a0η = 1.2\u00a0\u00a0β = 1","α = 0.25\u00a0\u00a0η = 1.25\u00a0\u00a0β = 1.5"],
        "range": [[1,0],[1,0],[1,0],[1,0],[1,0],[1,0],[9,6],[9,6],[9,6]]},
      "legend": {"orient": "none", "legendX": 286, "legendY": 186, "title": null, "symbolType": "stroke", "symbolSize": 441, "symbolStrokeWidth": 1.2, "symbolOffset": 6, "labelOffset": 12, "clipHeight": 9.5, "rowPadding": 0, "padding": 5, "strokeColor": "#555", "fillColor": "#ffffff", "labelFont": "DejaVu Sans", "labelFontSize": 9.2, "labelColor": "#333", "labelLimit": 300}}
  },
  "layer": [
    {"data": {"name": "bS"}, "mark": {"type": "line", "strokeWidth": 2.6}},
    {"data": {"name": "bD"}, "mark": {"type": "line", "strokeWidth": 2}}
  ]
}
]
}
